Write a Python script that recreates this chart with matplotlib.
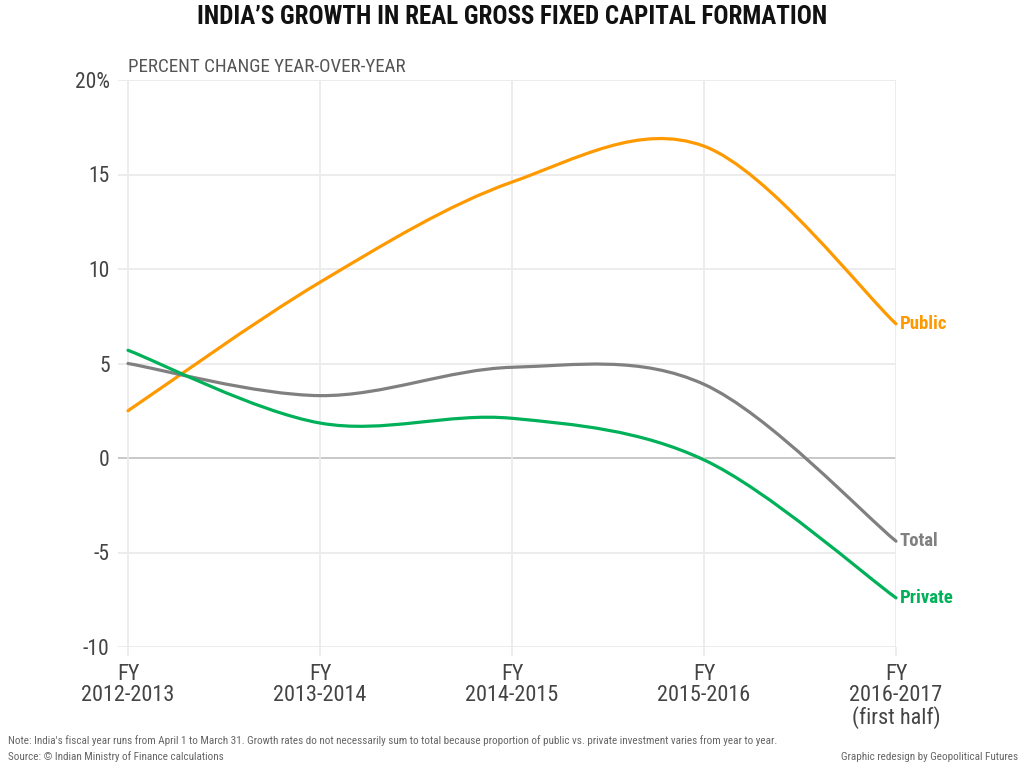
import matplotlib
matplotlib.use("Agg")
import matplotlib.pyplot as plt
from matplotlib.path import Path
from matplotlib.patches import PathPatch
from matplotlib import font_manager

names = {f.name for f in font_manager.fontManager.ttflist}
fam = [n for n in ["Roboto Condensed", "Liberation Sans Narrow", "Roboto", "DejaVu Sans"] if n in names]
plt.rcParams['font.family'] = fam

categories = ["FY\n2012-2013", "FY\n2013-2014", "FY\n2014-2015", "FY\n2015-2016", "FY\n2016-2017\n(first half)"]
public = [2.5, 9.3, 14.6, 16.5, 7.1]
total = [5.0, 3.3, 4.8, 3.9, -4.4]
private = [5.7, 1.85, 2.1, -0.1, -7.4]
y_ticks = [20, 15, 10, 5, 0, -5, -10]
y_labels = ["20%", "15", "10", "5", "0", "-5", "-10"]

series = [("Public", public, "#ff9900"), ("Total", total, "#808080"), ("Private", private, "#00b15a")]

fig = plt.figure(figsize=(10.24, 7.68), dpi=100)
ax = fig.add_axes([118/1024, 1-647/768, (896-118)/1024, (647-80)/768])
ax.set_xlim(-10/192, 4)
ax.set_ylim(-10, 20)

for s in ax.spines.values():
    s.set_visible(False)

grid_c = "#ebebeb"
for yv in y_ticks:
    ax.axhline(yv, color="#c4c4c4" if yv == 0 else grid_c, lw=1.3, zorder=1)
xs = list(range(len(categories)))
for xv in xs:
    ax.axvline(xv, color=grid_c, lw=1.3, zorder=1)

ax.set_yticks(y_ticks)
ax.set_yticklabels(y_labels)
ax.tick_params(axis='y', length=0, pad=6, labelsize=15.5, labelcolor="#444444")
ax.set_xticks(xs)
ax.set_xticklabels(categories, linespacing=1.0)
ax.tick_params(axis='x', length=6.5, width=1.3, color=grid_c, pad=6, labelsize=16, labelcolor="#444444")


def smooth_path(x, y):
    pts = list(zip(x, y))
    n = len(pts)
    verts = [pts[0]]
    codes = [Path.MOVETO]
    for i in range(n - 1):
        p0 = pts[i - 1] if i > 0 else pts[i]
        p1 = pts[i]
        p2 = pts[i + 1]
        p3 = pts[i + 2] if i + 2 < n else pts[i + 1]
        c1 = (p1[0] + (p2[0] - p0[0]) / 6, p1[1] + (p2[1] - p0[1]) / 6)
        c2 = (p2[0] - (p3[0] - p1[0]) / 6, p2[1] - (p3[1] - p1[1]) / 6)
        verts += [c1, c2, p2]
        codes += [Path.CURVE4] * 3
    return Path(verts, codes)


for name, vals, col in series:
    patch = PathPatch(smooth_path(xs, vals), facecolor="none", edgecolor=col, lw=2.3,
                      zorder=3, clip_on=False, capstyle="round")
    ax.add_patch(patch)
    ax.annotate(name, xy=(xs[-1], vals[-1]), xytext=(2.5, 0), textcoords="offset points",
                color=col, fontsize=13.5, fontweight="bold", va="center", ha="left",
                annotation_clip=False)

fig.text(0.5, 1-17/768, "INDIA’S GROWTH IN REAL GROSS FIXED CAPITAL FORMATION",
         ha="center", va="center", fontsize=18, fontweight="bold", color="#111111")
fig.text(128/1024, 1-67/768, "PERCENT CHANGE YEAR-OVER-YEAR", ha="left", va="center",
         fontsize=13.7, color="#555555")
fig.text(8/1024, 1-741/768,
         "Note: India's fiscal year runs from April 1 to March 31. Growth rates do not necessarily sum to total because proportion of public vs. private investment varies from year to year.",
         ha="left", va="center", fontsize=8, color="#666666")
fig.text(8/1024, 1-757/768, "Source: © Indian Ministry of Finance calculations",
         ha="left", va="center", fontsize=8, color="#666666")
fig.text(1018/1024, 1-757/768, "Graphic redesign by Geopolitical Futures",
         ha="right", va="center", fontsize=8, color="#666666")

fig.savefig("out.png", dpi=100)
